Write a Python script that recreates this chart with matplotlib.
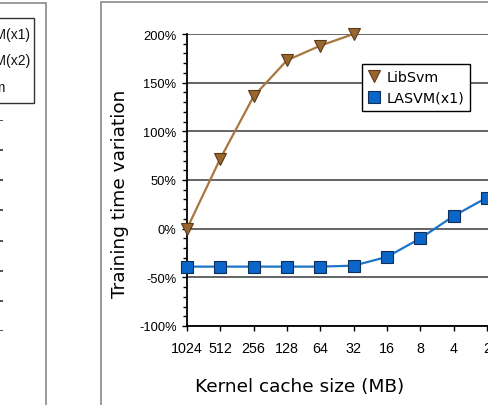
import matplotlib
matplotlib.use("Agg")
import matplotlib.pyplot as plt
from matplotlib.lines import Line2D
from matplotlib.patches import Rectangle

categories = ["1024", "512", "256", "128", "64", "32", "16", "8", "4", "2"]
libsvm = [0, 72, 136, 173, 188, 200]
lasvm_x1 = [-39, -39, -39, -39, -39, -38, -29, -10, 13, 32]
yticks = [-100, -50, 0, 50, 100, 150, 200]
ytick_labels = ["-100%", "-50%", "0%", "50%", "100%", "150%", "200%"]
left_legend_labels = ["LASVM(x1)", "LASVM(x2)", "LibSvm"]

W, H = 488, 406
fig = plt.figure(figsize=(W / 100, H / 100), dpi=100)

def fx(px):
    return px / W

def fy(py):
    return 1 - py / H

# panel frames
fig.patches.append(Rectangle((fx(-50), fy(420)), fx(96), fy(4) - fy(420),
                             transform=fig.transFigure, fill=False,
                             edgecolor="#8a8a8a", linewidth=1.2))
fig.patches.append(Rectangle((fx(101), fy(420)), fx(450), fy(3) - fy(420),
                             transform=fig.transFigure, fill=False,
                             edgecolor="#8a8a8a", linewidth=1.2))

# left (cropped) panel: grid ends
ax0 = fig.add_axes([fx(-60), fy(332), fx(63), fy(121) - fy(332)])
ax0.set_ylim(0, 7)
ax0.set_xlim(0, 1)
ax0.set_yticks(range(8))
ax0.set_xticks([])
ax0.grid(axis="y", color="#333333", linewidth=1.2)
ax0.tick_params(left=False, labelleft=False)
for s in ax0.spines.values():
    s.set_visible(False)
ax0.patch.set_alpha(0)
fig.patches.append(Rectangle((fx(-60), fy(104)), fx(94), fy(19) - fy(104),
                             transform=fig.transFigure, facecolor="white",
                             edgecolor="#333333", linewidth=1.0, zorder=5))
for i, lab in enumerate(left_legend_labels):
    fig.text(fx(-40), fy(35 + i * 26.5), lab, ha="left", va="center",
             fontsize=10, family="Liberation Sans", color="#111111", zorder=6)

# main axes
x0, x1 = 187, 187 + 10 * 33.33
ax = fig.add_axes([fx(x0), fy(327), fx(x1) - fx(x0), fy(35) - fy(327)])
xs = list(range(len(categories)))
ax.set_xlim(0, 10)
ax.set_ylim(-100, 200)
ax.set_yticks(yticks)
ax.set_yticklabels(ytick_labels, family="Liberation Sans", fontsize=9.3)
ax.set_yticks(range(-100, 201, 10), minor=True)
ax.set_xticks(xs)
ax.set_xticklabels(categories, family="Liberation Sans", fontsize=10.3)
ax.tick_params(axis="y", which="major", length=3.5, width=1, pad=4, colors="black")
ax.tick_params(axis="y", which="minor", length=3, width=1)
ax.tick_params(axis="x", length=3.5, width=1, pad=7)
ax.grid(axis="y", which="major", color="#3a3a3a", linewidth=1.1)
ax.set_axisbelow(True)
for s in ["top", "right"]:
    ax.spines[s].set_visible(False)
for s in ["left", "bottom"]:
    ax.spines[s].set_linewidth(1.3)
    ax.spines[s].set_color("black")

brown_line = "#a8763e"
brown_face = "#9a6630"
brown_edge = "#5a3a18"
blue_line = "#1c74c9"
blue_face = "#0a66c8"
blue_edge = "#0d2f5a"

ax.plot(xs[:len(libsvm)], libsvm, color=brown_line, linewidth=1.6, marker="v",
        markersize=8.5, markerfacecolor=brown_face, markeredgecolor=brown_edge,
        markeredgewidth=0.8, clip_on=False, zorder=4)
ax.plot(xs[:len(lasvm_x1)], lasvm_x1, color=blue_line, linewidth=1.6, marker="s",
        markersize=8, markerfacecolor=blue_face, markeredgecolor=blue_edge,
        markeredgewidth=0.8, clip_on=False, zorder=4)

handles = [
    Line2D([], [], linestyle="none", marker="v", markersize=8.5,
           markerfacecolor=brown_face, markeredgecolor=brown_edge, markeredgewidth=0.8),
    Line2D([], [], linestyle="none", marker="s", markersize=8,
           markerfacecolor=blue_face, markeredgecolor=blue_edge, markeredgewidth=0.8),
]
leg = fig.legend(handles, ["LibSvm", "LASVM(x1)"], loc="upper left",
                 bbox_to_anchor=(fx(362), fy(65)), borderaxespad=0,
                 prop={"family": "DejaVu Sans", "size": 10.3},
                 frameon=True, fancybox=False, framealpha=1, edgecolor="black",
                 handlelength=0.9, handletextpad=0.4, borderpad=0.4,
                 labelspacing=0.5)
leg.get_frame().set_linewidth(1.0)

fig.text(fx(120), fy(194), "Training time variation", rotation=90,
         ha="center", va="center", family="DejaVu Sans", fontsize=13.3)
fig.text(fx(300), fy(387), "Kernel cache size (MB)", ha="center", va="center",
         family="DejaVu Sans", fontsize=13.3)

fig.savefig("out.png", dpi=100, facecolor="white")
